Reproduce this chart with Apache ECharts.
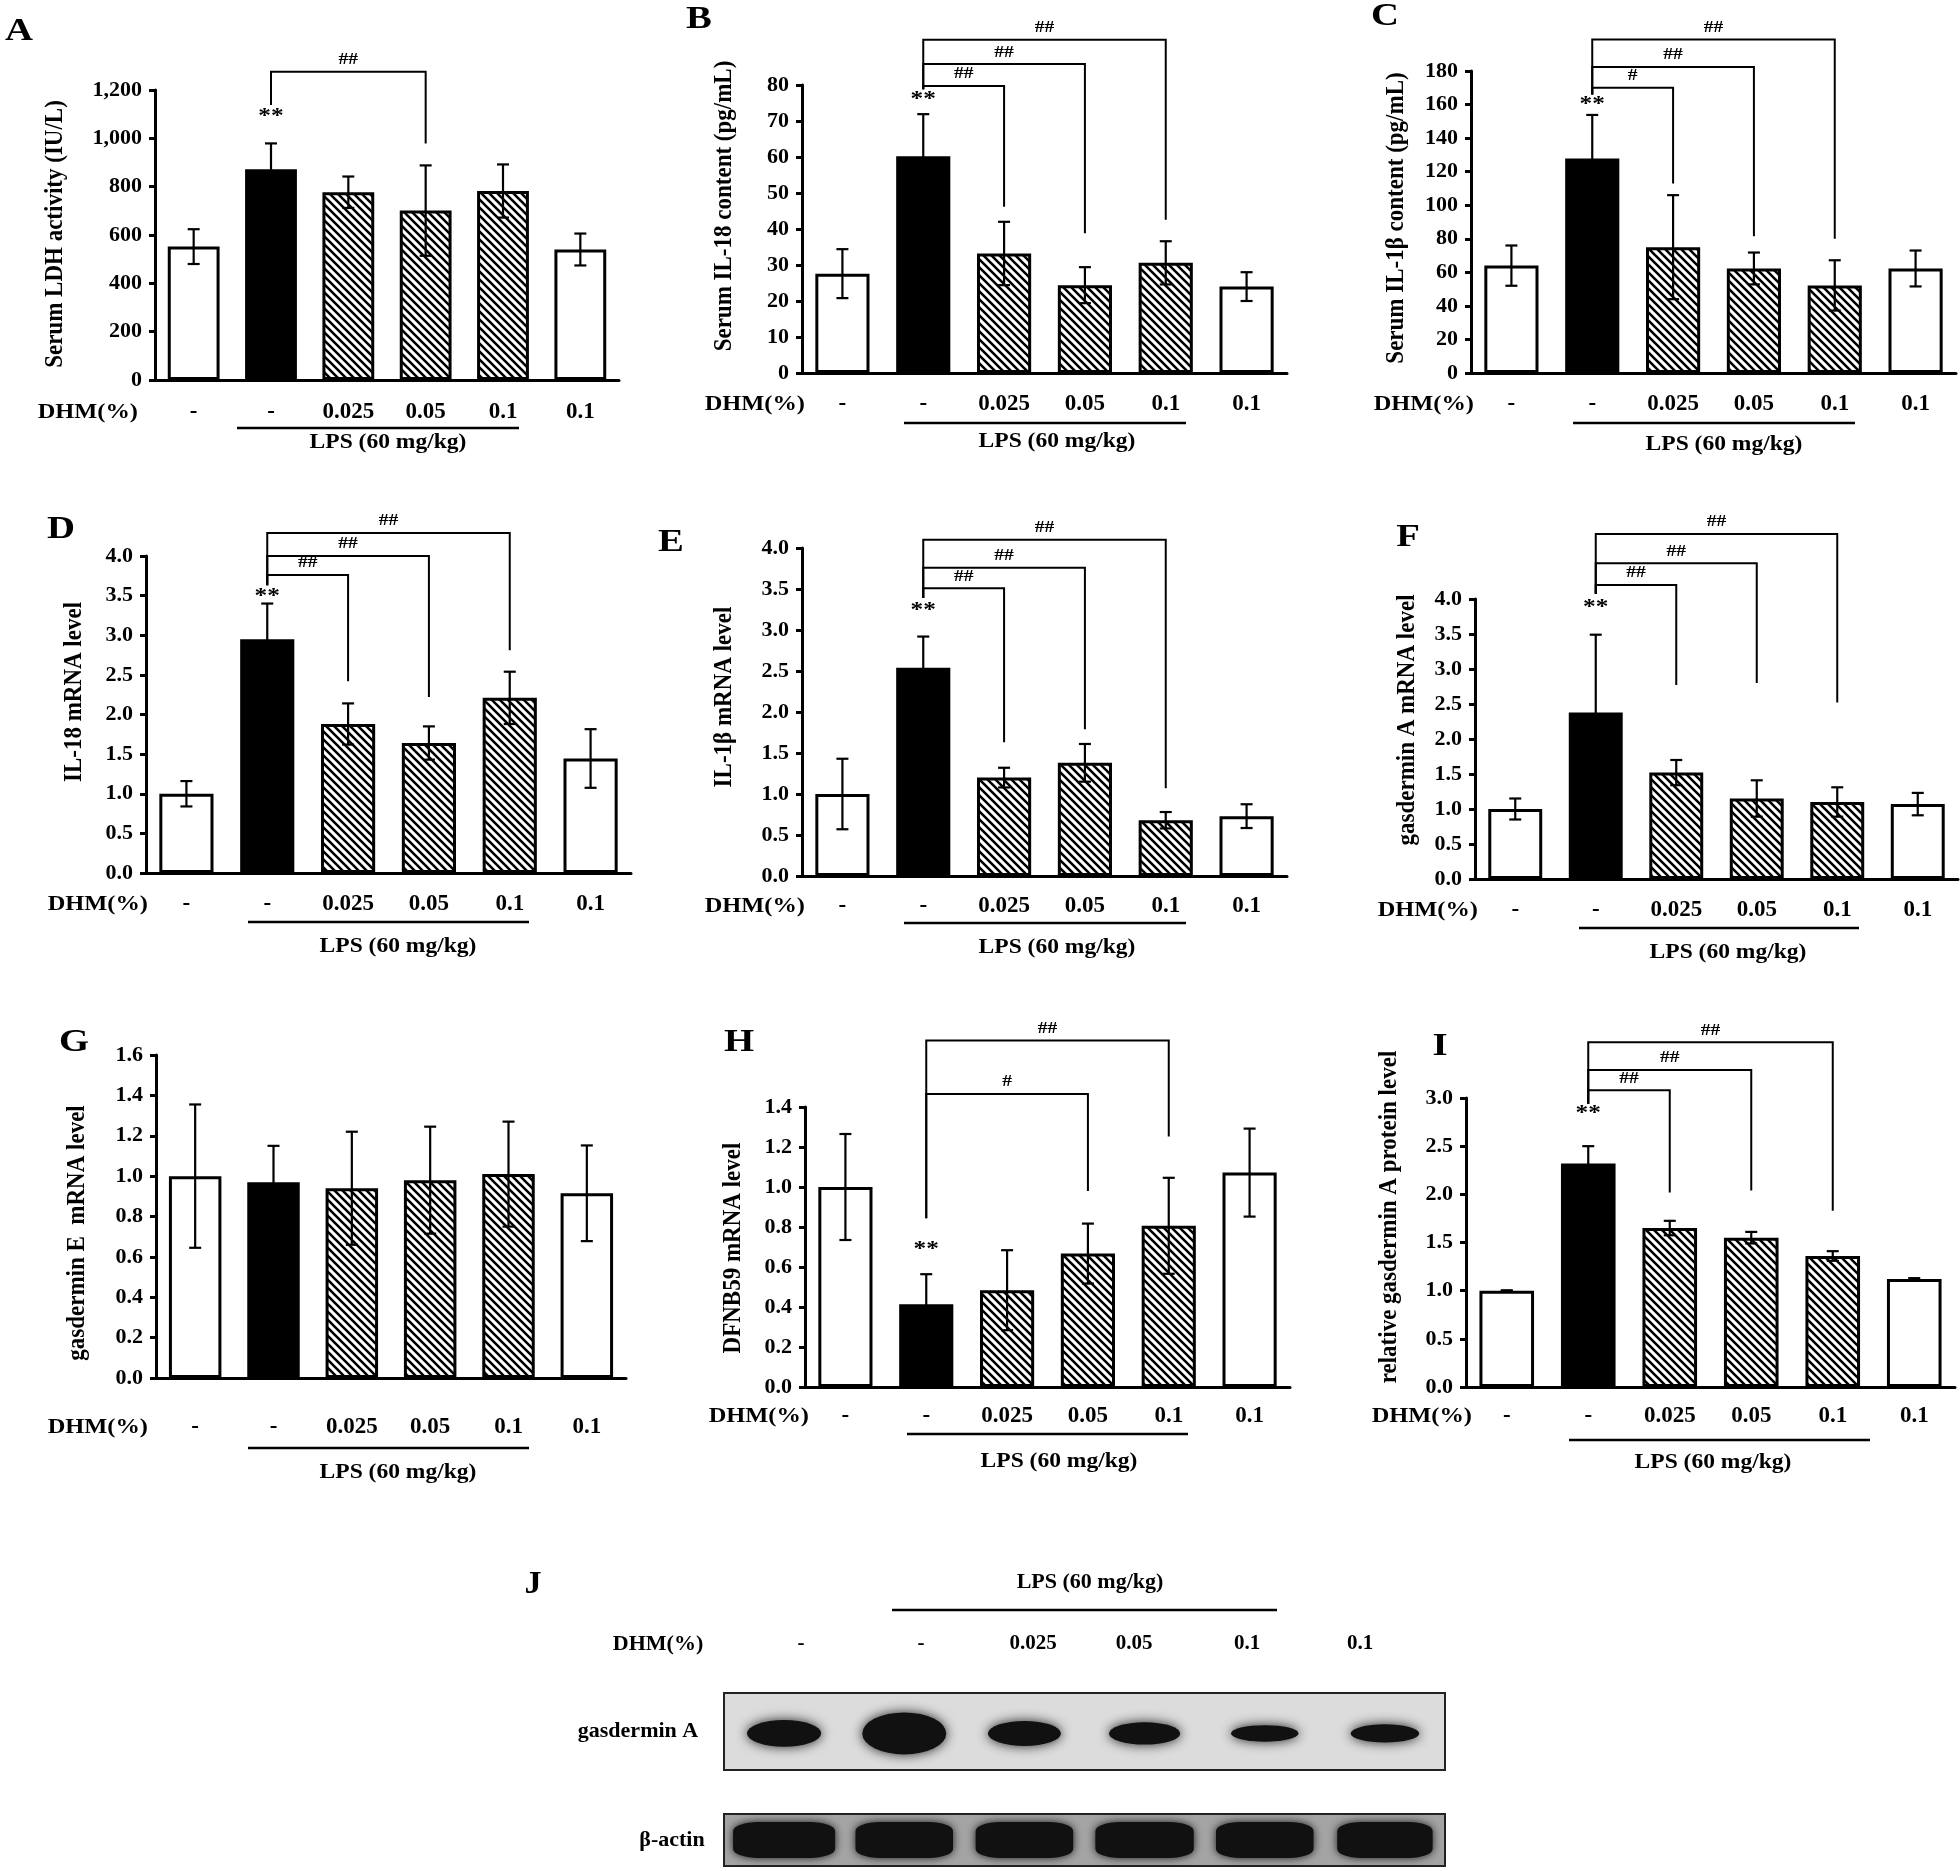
<!DOCTYPE html>
<html>
<head>
<meta charset="utf-8">
<script src="https://cdn.jsdelivr.net/npm/echarts/dist/echarts.min.js"></script>
<style>
  html, body { margin: 0; padding: 0; background: #fff; }
  #main { width: 1960px; height: 1871px; }
</style>
</head>
<body>
<div id="main"></div>
<script>
// ---- data ----
var groups = ['-', '-', '0.025', '0.05', '0.1', '0.1'];

var ldh = [552, 872, 777, 701, 782, 540];
var ldhErr = [72, 107, 65, 187, 110, 66];
var il18Serum = [27.6, 60.2, 33.2, 24.4, 30.6, 24.0];
var il18SerumErr = [6.8, 11.7, 8.8, 5.0, 6.0, 4.0];
var il1bSerum = [64, 127.8, 75, 62.3, 52.2, 62.3];
var il1bSerumErr = [12, 26, 31, 9.5, 15, 10.7];
var il18Mrna = [1.0, 2.95, 1.88, 1.64, 2.21, 1.445];
var il18MrnaErr = [0.16, 0.45, 0.26, 0.21, 0.33, 0.37];
var il1bMrna = [1.0, 2.54, 1.2, 1.38, 0.68, 0.73];
var il1bMrnaErr = [0.43, 0.38, 0.12, 0.23, 0.1, 0.145];
var gsdmaMrna = [1.0, 2.38, 1.52, 1.15, 1.1, 1.07];
var gsdmaMrnaErr = [0.15, 1.11, 0.18, 0.26, 0.21, 0.16];
var gsdmeMrna = [1.0, 0.97, 0.94, 0.98, 1.01, 0.915];
var gsdmeMrnaErr = [0.355, 0.18, 0.28, 0.265, 0.26, 0.237];
var dfnb59Mrna = [1.0, 0.414, 0.484, 0.667, 0.806, 1.072];
var dfnb59MrnaErr = [0.265, 0.15, 0.2, 0.15, 0.24, 0.22];
var gsdmaProtein = [1.0, 2.32, 1.65, 1.55, 1.36, 1.12];
var gsdmaProteinErr = [0.004, 0.18, 0.075, 0.06, 0.05, 0.01];

// significance brackets: [from bar, to bar, start at from, bracket level, end at to, mark]
var sigA = [[1, 3, 1138, 1276, 979, '##']];
var sigB = [[1, 2, 78.8, 79.7, 46.2, '##'], [1, 3, 78.8, 85.8, 38.8, '##'], [1, 4, 78.8, 92.6, 42.6, '##']];
var sigC = [[1, 2, 166, 170, 113, '#'], [1, 3, 166, 182.4, 81.5, '##'], [1, 4, 166, 198.8, 80, '##']];
var sigD = [[1, 2, 3.63, 3.76, 2.42, '##'], [1, 3, 3.63, 4.0, 2.22, '##'], [1, 4, 3.63, 4.29, 2.81, '##']];
var sigE = [[1, 2, 3.39, 3.51, 1.63, '##'], [1, 3, 3.39, 3.76, 1.79, '##'], [1, 4, 3.39, 4.10, 1.07, '##']];
var sigF = [[1, 2, 4.07, 4.2, 2.77, '##'], [1, 3, 4.07, 4.51, 2.80, '##'], [1, 4, 4.07, 4.93, 2.52, '##']];
var sigG = [];
var sigH = [[1, 3, 0.844, 1.465, 0.98, '#'], [1, 4, 0.844, 1.732, 1.253, '##']];
var sigI = [[1, 2, 2.94, 3.08, 2.02, '##'], [1, 3, 2.94, 3.29, 2.04, '##'], [1, 4, 2.94, 3.58, 1.83, '##']];

// "**" height over the LPS bar
var starA = 1090, starB = 76, starC = 160, starD = 3.49, starE = 3.24, starF = 3.88, starH = 0.688, starI = 2.84;

// western blot band strength, lane by lane
var gsdmaBand = [0.55, 1.0, 0.5, 0.42, 0.25, 0.3];
var actinBand = [1.0, 0.85, 0.85, 0.88, 0.85, 0.78];

// ---- layout ----
var FONT = "'Liberation Serif', 'Times New Roman', serif";

var panels = [
  {letter: 'A', vals: ldh, errs: ldhErr, sig: sigA, star: starA, max: 1200, step: 200, dec: -1,
   name: 'Serum LDH activity (IU/L)', box: [155, 90, 619, 380], lp: [19, 32], np: [55, 234],
   dhm: [138, 413], gap: 21, lps: [237, 519, 428, 388, 443]},
  {letter: 'B', vals: il18Serum, errs: il18SerumErr, sig: sigB, star: starB, max: 80, step: 10, dec: 0,
   name: 'Serum IL-18 content (pg/mL)', box: [802, 85, 1287, 373], lp: [699, 20], np: [724, 206],
   dhm: [805, 405], gap: 20, lps: [904, 1186, 423, 1057, 442]},
  {letter: 'C', vals: il1bSerum, errs: il1bSerumErr, sig: sigC, star: starC, max: 180, step: 20, dec: 0,
   name: 'Serum IL-1\u03b2 content (pg/mL)', box: [1471, 71, 1956, 373], lp: [1385, 17], np: [1396, 218],
   dhm: [1474, 405], gap: 20, lps: [1573, 1855, 423, 1724, 445]},
  {letter: 'D', vals: il18Mrna, errs: il18MrnaErr, sig: sigD, star: starD, max: 4, step: 0.5, dec: 1,
   name: 'IL-18 mRNA level', box: [146, 556, 631, 873], lp: [61, 530], np: [74, 692],
   dhm: [148, 905], gap: 20, lps: [248, 529, 922, 398, 947]},
  {letter: 'E', vals: il1bMrna, errs: il1bMrnaErr, sig: sigE, star: starE, max: 4, step: 0.5, dec: 1,
   name: 'IL-1\u03b2 mRNA level', box: [802, 548, 1287, 876], lp: [671, 543], np: [724, 697],
   dhm: [805, 907], gap: 19, lps: [904, 1186, 923, 1057, 948]},
  {letter: 'F', vals: gsdmaMrna, errs: gsdmaMrnaErr, sig: sigF, star: starF, max: 4, step: 0.5, dec: 1,
   name: 'gasdermin A mRNA level', box: [1475, 599, 1958, 879], lp: [1408, 538], np: [1407, 720],
   dhm: [1478, 911], gap: 20, lps: [1579, 1859, 928, 1728, 953]},
  {letter: 'G', vals: gsdmeMrna, errs: gsdmeMrnaErr, sig: sigG, star: null, max: 1.6, step: 0.2, dec: 1,
   name: 'gasdermin E  mRNA level', box: [156, 1055, 626, 1378], lp: [74, 1043], np: [77, 1233],
   dhm: [148, 1428], gap: 38, lps: [248, 529, 1448, 398, 1473]},
  {letter: 'H', vals: dfnb59Mrna, errs: dfnb59MrnaErr, sig: sigH, star: starH, max: 1.4, step: 0.2, dec: 1,
   name: 'DFNB59 mRNA level', box: [805, 1107, 1290, 1387], lp: [739, 1043], np: [733, 1248],
   dhm: [809, 1417], gap: 18, lps: [907, 1188, 1434, 1059, 1462]},
  {letter: 'I', vals: gsdmaProtein, errs: gsdmaProteinErr, sig: sigI, star: starI, max: 3, step: 0.5, dec: 1,
   name: 'relative gasdermin A protein level', box: [1466, 1098, 1955, 1387], lp: [1440, 1047], np: [1389, 1217],
   dhm: [1472, 1417], gap: 18, lps: [1569, 1870, 1440, 1713, 1463]}
];

// diagonal hatch for the DHM+LPS bars
function makeHatch() {
  var c = document.createElement('canvas');
  var s = 8;
  c.width = s; c.height = s;
  var ctx = c.getContext('2d');
  ctx.fillStyle = '#fff';
  ctx.fillRect(0, 0, s, s);
  ctx.strokeStyle = '#000';
  ctx.lineWidth = 2.6;
  ctx.beginPath();
  ctx.moveTo(-2, -2); ctx.lineTo(s + 2, s + 2);
  ctx.moveTo(-2, s - 2); ctx.lineTo(2, s + 2);
  ctx.moveTo(s - 2, -2); ctx.lineTo(s + 2, 2);
  ctx.stroke();
  return c;
}
var hatch = {image: makeHatch(), repeat: 'repeat'};

function barColor(i) {
  if (i === 0 || i === 5) return '#fff';
  if (i === 1) return '#000';
  return hatch;
}

function fmtTick(dec) {
  return function (v) {
    if (dec < 0) return v.toLocaleString('en-US');
    return v.toFixed(dec);
  };
}

// the source figure is stretched sideways, so most text gets a scaleX
function txt(x, y, text, size, extra) {
  var el = {
    type: 'text', x: x, y: y, silent: true,
    style: {text: text, fill: '#000', fontFamily: FONT, fontWeight: 'bold', fontSize: size,
            align: 'center', verticalAlign: 'middle'}
  };
  if (extra) for (var k in extra) el[k] = extra[k];
  return el;
}

var grids = [], xAxes = [], yAxes = [], series = [], graphics = [];

panels.forEach(function (p, g) {
  var b = p.box;
  grids.push({left: b[0], top: b[1], width: b[2] - b[0], height: b[3] - b[1]});
  xAxes.push({
    type: 'category', gridIndex: g, data: groups,
    axisLine: {lineStyle: {color: '#000', width: 3}},
    axisTick: {show: false},
    axisLabel: {color: '#000', fontFamily: FONT, fontWeight: 'bold', fontSize: 23, margin: p.gap, interval: 0}
  });
  yAxes.push({
    type: 'value', gridIndex: g, min: 0, max: p.max, interval: p.step,
    splitLine: {show: false},
    axisLine: {show: true, lineStyle: {color: '#000', width: 3}},
    axisTick: {show: true, length: 6, lineStyle: {color: '#000', width: 3}},
    axisLabel: {color: '#000', fontFamily: FONT, fontWeight: 'bold', fontSize: 22, margin: 13,
                formatter: fmtTick(p.dec)}
  });

  series.push({
    type: 'bar', xAxisIndex: g, yAxisIndex: g, barWidth: '67%', z: 2,
    data: p.vals.map(function (v, i) {
      return {value: v, itemStyle: {color: barColor(i), borderColor: '#000', borderWidth: 3}};
    }),
    silent: true
  });

  // error bars
  series.push({
    type: 'custom', xAxisIndex: g, yAxisIndex: g, z: 5, clip: false, silent: true,
    data: p.vals.map(function (v, i) { return [i, v, p.errs[i]]; }),
    renderItem: function (params, api) {
      var i = api.value(0), v = api.value(1), e = api.value(2);
      var hi = api.coord([i, v + e]), lo = api.coord([i, v - e]);
      var x = hi[0], w = 6;
      var st = {stroke: '#000', lineWidth: 2.2};
      return {type: 'group', children: [
        {type: 'line', shape: {x1: x, y1: hi[1], x2: x, y2: lo[1]}, style: st},
        {type: 'line', shape: {x1: x - w, y1: hi[1], x2: x + w, y2: hi[1]}, style: st},
        {type: 'line', shape: {x1: x - w, y1: lo[1], x2: x + w, y2: lo[1]}, style: st}
      ]};
    }
  });

  // ## brackets
  if (p.sig.length) {
    series.push({
      type: 'custom', xAxisIndex: g, yAxisIndex: g, z: 6, clip: false, silent: true,
      data: p.sig.map(function (s) { return [s[0], s[2]]; }),
      renderItem: function (params, api) {
        var s = p.sig[params.dataIndex];
        var a = api.coord([s[0], s[2]]), at = api.coord([s[0], s[3]]);
        var bt = api.coord([s[1], s[3]]), bb = api.coord([s[1], s[4]]);
        return {type: 'group', children: [
          {type: 'polyline', shape: {points: [a, at, bt, bb]},
           style: {stroke: '#000', lineWidth: 2, fill: null}},
          {type: 'text', x: (at[0] + bt[0]) / 2, y: at[1] - 12, scaleX: 1.15,
           style: {text: s[5], fill: '#000', fontFamily: FONT, fontWeight: 'bold', fontSize: 17,
                   align: 'center', verticalAlign: 'middle'}}
        ]};
      }
    });
  }
  // ** over LPS bar
  if (p.star !== null) {
    series.push({
      type: 'custom', xAxisIndex: g, yAxisIndex: g, z: 6, clip: false, silent: true,
      data: [[1, p.star]],
      renderItem: function (params, api) {
        var c = api.coord([api.value(0), api.value(1)]);
        return {type: 'text', x: c[0], y: c[1], scaleX: 1.15,
                style: {text: '**', fill: '#000', fontFamily: FONT, fontWeight: 'bold', fontSize: 22,
                        align: 'center', verticalAlign: 'middle'}};
      }
    });
  }

  graphics.push(txt(p.lp[0], p.lp[1], p.letter, 31, {scaleX: 1.25}));
  graphics.push(txt(p.np[0], p.np[1], p.name, 23, {rotation: Math.PI / 2, scaleY: 1.1}));
  var dh = txt(p.dhm[0], p.dhm[1], 'DHM(%)', 20, {scaleX: 1.22});
  dh.style.align = 'right';
  graphics.push(dh);
  graphics.push({type: 'line', silent: true,
    shape: {x1: p.lps[0], y1: p.lps[2], x2: p.lps[1], y2: p.lps[2]},
    style: {stroke: '#000', lineWidth: 2.5}});
  graphics.push(txt(p.lps[3], p.lps[4], 'LPS (60 mg/kg)', 21, {scaleX: 1.12}));
});

// ---- panel J: western blot ----
var blots = [
  {box: [724, 1693, 1445, 1770], bg: '#dcdcdc', vals: gsdmaBand, label: 'gasdermin A', lx: 638},
  {box: [724, 1814, 1445, 1866], bg: '#a4a4a4', vals: actinBand, label: '\u03b2-actin', lx: 672}
];
blots.forEach(function (bl, k) {
  var g = grids.length, b = bl.box;
  grids.push({left: b[0], top: b[1], width: b[2] - b[0], height: b[3] - b[1], show: true,
              backgroundColor: bl.bg, borderColor: '#222', borderWidth: 2});
  xAxes.push({type: 'category', gridIndex: g, data: groups, show: false});
  yAxes.push({type: 'value', gridIndex: g, min: -1, max: 1, show: false});
  series.push({
    type: 'scatter', xAxisIndex: g, yAxisIndex: g, silent: true,
    symbol: k === 0 ? 'circle' : 'roundRect',
    data: bl.vals.map(function (v, i) { return [i, k === 0 ? -0.05 : 0, v]; }),
    symbolSize: function (val) {
      return k === 0 ? [62 + 22 * val[2], 8 + 34 * val[2]] : [72 + 30 * val[2], 36];
    },
    itemStyle: {color: '#111', opacity: 1, shadowBlur: k === 0 ? 12 : 9, shadowColor: 'rgba(0,0,0,0.85)'}
  });
  graphics.push(txt(bl.lx, (b[1] + b[3]) / 2, bl.label, 22));
});

var laneX = [801, 921, 1033, 1134, 1247, 1360];
graphics.push(txt(533, 1585, 'J', 31, {scaleX: 1.1}));
graphics.push(txt(1090, 1582, 'LPS (60 mg/kg)', 22));
graphics.push({type: 'line', silent: true, shape: {x1: 892, y1: 1610, x2: 1277, y2: 1610},
               style: {stroke: '#000', lineWidth: 2.5}});
graphics.push(txt(658, 1644, 'DHM(%)', 22));
groups.forEach(function (gname, i) {
  graphics.push(txt(laneX[i], 1644, gname, 21));
});

var chart = echarts.init(document.getElementById('main'), null, {renderer: 'canvas'});
chart.setOption({
  backgroundColor: '#fff',
  animation: false,
  grid: grids,
  xAxis: xAxes,
  yAxis: yAxes,
  series: series,
  graphic: graphics
});
</script>
</body>
</html>
